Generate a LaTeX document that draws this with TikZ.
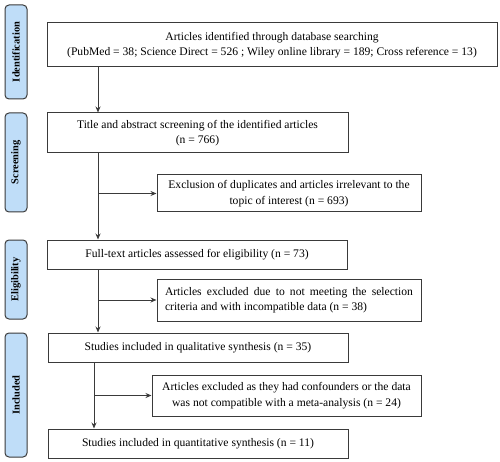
\documentclass[tikz,border=0pt]{standalone}
\usepackage{fontspec}
\setmainfont{Liberation Serif}
\usetikzlibrary{arrows.meta,positioning,calc}
\definecolor{linec}{HTML}{3A3A3A}
\definecolor{phasefill}{HTML}{BFDDF8}
\begin{document}
\begin{tikzpicture}[x=1pt,y=-1pt,
  box/.style={draw=linec,line width=1pt,rectangle,inner sep=0pt,align=center,font=\fontsize{11.6}{15.5}\selectfont,text=black},
  phase/.style={draw=linec,line width=1pt,fill=phasefill,rounded corners=4pt,inner sep=0pt,minimum width=22pt},
  phasetext/.style={rotate=90,font=\bfseries\fontsize{10.4}{12}\selectfont},
  arr/.style={draw=linec,line width=1pt,-{Stealth[length=6pt,width=5pt]}}]
\useasboundingbox (0,0) rectangle (500,462);
% phase labels
\node[phase,minimum height=94pt] (pid) at (16,52) {};
\node[phasetext] (tid) at (pid.center) {Identification};
\node[phase,minimum height=99pt] (psc) at (16,162.5) {};
\node[phasetext] (tsc) at (psc.center) {Screening};
\node[phase,minimum height=79pt] (pel) at (16,279.5) {};
\node[phasetext] (tel) at (pel.center) {Eligibility};
\node[phase,minimum height=124pt] (pin) at (16,395) {};
\node[phasetext] (tin) at (pin.center) {Included};
% boxes
\node[box,minimum width=450pt,minimum height=44pt] (b1) at (272,45) {Articles identified through database searching\\(PubMed = 38; Science Direct = 526 ; Wiley online library = 189; Cross reference = 13)};
\node[box,minimum width=301pt,minimum height=40pt] (b2) at (197.5,133) {Title and abstract screening of the identified articles\\(n = 766)};
\node[box,minimum width=264pt,minimum height=37pt] (b3) at (289,193.5) {Exclusion of duplicates and articles irrelevant to the\\topic of interest (n = 693)};
\node[box,minimum width=300pt,minimum height=29pt] (b4) at (197,254.5) {Full-text articles assessed for eligibility (n = 73)};
\node[box,minimum width=264pt,minimum height=42pt,text width=248pt,align=justify] (b5) at (289,300) {Articles excluded due to not meeting the selection\linebreak criteria and with incompatible data (n = 38)};
\node[box,minimum width=300pt,minimum height=29pt] (b6) at (198,347.5) {Studies included in qualitative synthesis (n = 35)};
\node[box,minimum width=269pt,minimum height=41pt] (b7) at (286.5,395.5) {Articles excluded as they had confounders or the data\\was not compatible with a meta-analysis (n = 24)};
\node[box,minimum width=300pt,minimum height=29pt] (b8) at (198,443.5) {Studies included in quantitative synthesis (n = 11)};
% connectors
\coordinate (ca) at (98,0);
\coordinate (cb) at (94,0);
\draw[arr] (ca |- b1.south) -- (ca |- b2.north);
\draw[arr] (ca |- b2.south) -- (ca |- b4.north);
\draw[arr] (ca |- b3.west) -- (b3.west);
\draw[arr] (ca |- b4.south) -- (ca |- b6.north);
\draw[arr] (ca |- b5.west) -- (b5.west);
\draw[arr] (cb |- b6.south) -- (cb |- b8.north);
\draw[arr] (cb |- b7.west) -- (b7.west);
\end{tikzpicture}
\end{document}
